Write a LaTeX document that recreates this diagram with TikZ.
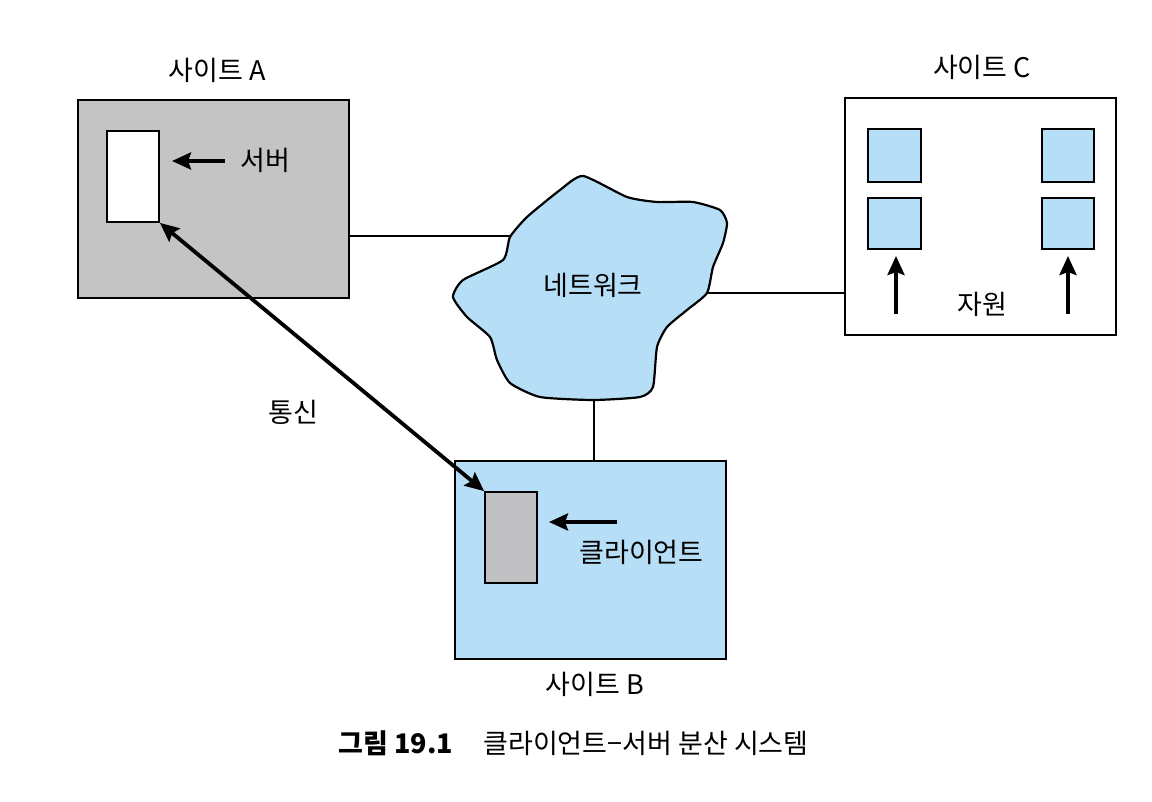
\documentclass[tikz,border=0pt]{standalone}
\usepackage{fontspec}
\setmainfont{Noto Sans CJK KR}
\usetikzlibrary{arrows.meta,fit}
\definecolor{siteagray}{RGB}{196,196,196}
\definecolor{clientgray}{RGB}{192,192,194}
\definecolor{lblue}{RGB}{182,222,246}
\tikzset{
  box/.style={draw=black, line width=0.9pt, inner sep=0pt},
  link/.style={draw=black, line width=0.7pt},
  tipA/.tip={Stealth[length=9.5pt,width=8.5pt,inset=1.5pt]},
  fatarrow/.style={line width=1.9pt, -tipA},
  lbl/.style={font=\fontsize{13.5pt}{16pt}\selectfont, inner sep=0pt},
}
\begin{document}
\begin{tikzpicture}[x=0.5pt,y=-0.5pt]
\useasboundingbox (0,0) rectangle (1152,802);
% Site A
\node[box, fill=siteagray, fit={(78,100)(349,298)}] (siteA) {};
\node[box, fill=white, fit={(107,131)(159,222)}] (server) {};
\node[lbl] (labelA) at (217,70) {사이트 A};
\node[lbl, anchor=west] (serverlbl) at (240,160) {서버};
\coordinate (sarrS) at (225,161);
\coordinate (sarrE) at (172,161);
\draw[fatarrow] (sarrS) -- (sarrE);
% Site B
\node[box, fill=lblue, fit={(455,461)(726,659)}] (siteB) {};
\node[box, fill=clientgray, fit={(485,492)(537,583)}] (client) {};
\node[lbl] (labelB) at (595,684) {사이트 B};
\node[lbl, anchor=west] (clientlbl) at (579,552) {클라이언트};
\coordinate (carrS) at (617,522);
\coordinate (carrE) at (549,522);
\draw[fatarrow] (carrS) -- (carrE);
% Site C
\node[box, fill=white, fit={(845,98)(1116,335)}] (siteC) {};
\node[box, fill=lblue, fit={(868,129)(921,182)}] (r1) {};
\node[box, fill=lblue, fit={(868,198)(921,249)}] (r2) {};
\node[box, fill=lblue, fit={(1042,129)(1094,182)}] (r3) {};
\node[box, fill=lblue, fit={(1042,198)(1094,249)}] (r4) {};
\node[lbl] (labelC) at (982,67) {사이트 C};
\node[lbl] (reslbl) at (982,304) {자원};
\coordinate (ra1) at (896,314);
\coordinate (ra1e) at (896,256);
\coordinate (ra2) at (1068,314);
\coordinate (ra2e) at (1068,256);
\draw[fatarrow] (ra1) -- (ra1e);
\draw[fatarrow] (ra2) -- (ra2e);
% Network cloud
\draw[line width=1.1pt, fill=lblue] plot[smooth cycle, tension=0.35] coordinates {
 (583,176) (627,197) (657,202) (693,202) (720,210) (727,223) (723,243)
 (713,267) (707,293) (687,310) (667,327) (657,347) (653,387) (640,397)
 (593,400) (540,397) (510,383) (497,360) (490,337) (467,317) (453,297)
 (463,280) (503,260) (510,237) (527,217) (560,190)};
\node[lbl] (net) at (593,285) {네트워크};
\coordinate (netW) at (510,236);
\coordinate (netE) at (707,293);
\coordinate (netS) at (594,400);
% Links
\draw[link] (siteA.east |- netW) -- (netW);
\draw[link] (netE) -- (siteC.west |- netE);
\draw[link] (netS) -- (siteB.north -| netS);
% Communication
\draw[line width=1.9pt, tipA-tipA] (server.south east) -- (client.north west);
\node[lbl] (comm) at (293,412) {통신};
% Caption
\node[lbl, anchor=west, font=\fontsize{13.5pt}{16pt}\selectfont\bfseries] (capnum) at (338,743) {그림 19.1};
\node[lbl, anchor=west] (captext) at (483,743) {클라이언트−서버 분산 시스템};
\end{tikzpicture}
\end{document}
